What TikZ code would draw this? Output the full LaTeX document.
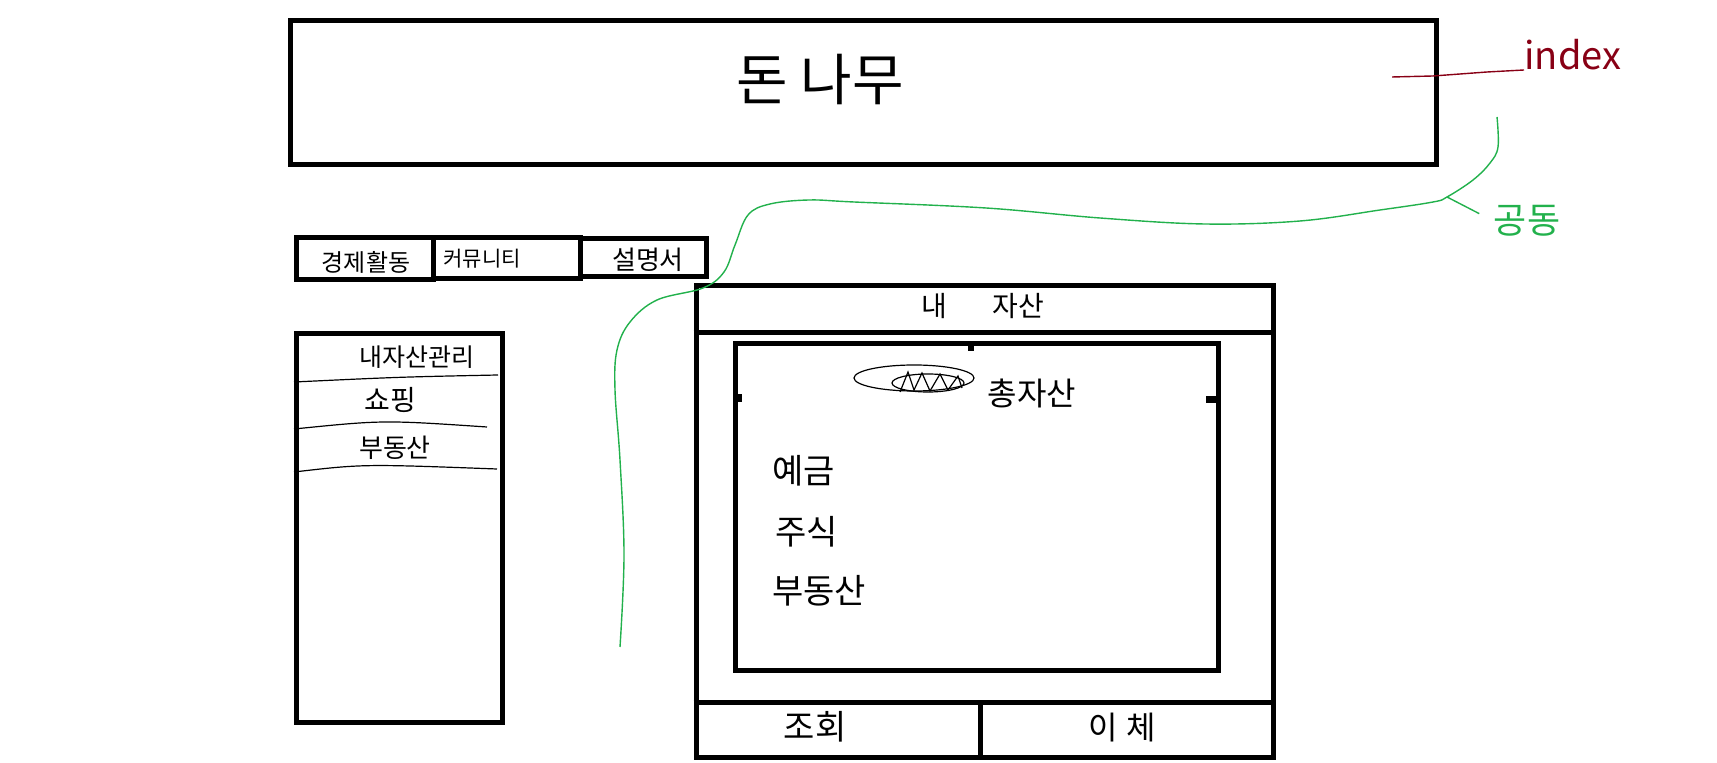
\documentclass[tikz,border=0pt]{standalone}
\usepackage{fontspec}
\newfontfamily\kr{Noto Sans CJK KR}
\usepackage{xcolor}
\usetikzlibrary{positioning}
\definecolor{paintred}{RGB}{136,0,21}
\definecolor{paintgreen}{RGB}{34,177,76}
\tikzset{
    frame/.style={rectangle, draw, line width=2.5pt, inner sep=0pt},
    txt/.style={inner sep=0pt, font=\kr\fontsize{#1}{#1}\selectfont},
    txt/.default=14,
    thinline/.style={draw, line width=0.6pt},
    redline/.style={draw=paintred, line width=0.7pt},
    greenline/.style={draw=paintgreen, line width=0.7pt},
    tick/.style={fill=black}
}

\begin{document}
\begin{tikzpicture}[x=0.5pt, y=-0.5pt]
    \useasboundingbox (0,0) rectangle (1717,763);

    % title bar
    \node[frame, minimum width=573.25pt, minimum height=72.25pt] (title) at (863.25,92.75) {};
    \node[txt=28] (titletext) at (820,80) {돈 나무};

    % top menu
    \node[frame, minimum width=68.25pt, minimum height=21pt] (econ) at (364.75,259) {};
    \node[frame, minimum width=73.5pt, minimum height=20.5pt] (community) at (506.5,258.5) {};
    \node[frame, minimum width=63pt, minimum height=19pt] (manual) at (643,258) {};
    \node[txt=12] (econtext) at (366,262) {경제활동};
    \node[txt=10.5] (commtext) at (482,259) {커뮤니티};
    \node[txt=13] (mantext) at (648,260) {설명서};

    % side menu
    \node[frame, minimum width=102.75pt, minimum height=194pt] (side) at (399.25,528) {};
    \node[txt=12.5] (myasset) at (417,357) {내자산관리};
    \node[txt=14] (shop) at (390,400) {쇼핑};
    \node[txt=13] (estate) at (395,448) {부동산};
    \draw[thinline] (side.west |- 0,382) .. controls (400,377) .. (498,375);
    \draw[thinline] (side.west |- 0,429) .. controls (383,420) .. (487,427);
    \draw[thinline] (side.west |- 0,472) .. controls (363,464) .. (497,469);

    % main panel
    \node[frame, minimum width=288.75pt, minimum height=235.75pt] (panel) at (984.75,521.25) {};
    \draw[line width=2.5pt] (panel.west |- 0,333) -- (panel.east |- 0,333);
    \draw[line width=2.5pt] (panel.west |- 0,702) -- (panel.east |- 0,702);
    \draw[line width=2.5pt] (980.5,702) -- (panel.south -| 980.5,0);
    \node[txt=14] (mine) at (983,306) {내\hspace{1.6em}자산};
    \node[txt=17] (lookup) at (815,727) {조회};
    \node[txt=16] (transfer) at (1122,728) {이\hspace{0.25em}체};

    % asset box
    \node[frame, minimum width=241.5pt, minimum height=163pt] (assets) at (976.5,507) {};
    \fill[tick] (735,394) rectangle (742,402);
    \fill[tick] (1206,396) rectangle (1216,403);
    \fill[tick] (968,344) rectangle (974,351);
    \draw[line width=0.6pt] (914,378) ellipse [x radius=60, y radius=13];
    \draw[line width=0.6pt] (928,383) ellipse [x radius=36, y radius=9];
    \draw[line width=0.6pt] (900,392) -- (908,372) -- (914,390) -- (922,373) -- (930,391)
        -- (940,374) -- (948,390) -- (958,376) -- (962,388);
    \node[txt=16] (total) at (1032,393) {총자산};
    \node[txt=17, anchor=west] (deposit) at (772,471) {예금};
    \node[txt=17, anchor=west] (stock) at (775,532) {주식};
    \node[txt=17, anchor=west] (realty) at (772,591) {부동산};

    % notes
    \node[txt=19, text=paintred, anchor=base west] (idx) at (1524,70) {index};
    \coordinate (idxtail) at (1392,77);
    \draw[redline] (idxtail) -- (1433,76) -- (1487,72) -- (idx.base west);

    \node[txt=18, text=paintgreen] (common) at (1527,221) {공동};
    \coordinate (commonfork) at (1447,197);
    \draw[greenline] plot[smooth, tension=0.6] coordinates {
        (1497,117) (1498,147) (1490,163) (1473,180) (1447,197) (1433,202)
        (1380,210) (1300,221) (1205,224) (1100,218) (986,208) (854,202)
        (809,200) (770,204) (748,215) (735,245) (724,272) (703,288)
        (657,300) (630,322) (617,350) (615,390) (620,460) (624,555) (620,647)};
    \draw[greenline, shorten >=8pt] (commonfork) -- (common.west);
\end{tikzpicture}
\end{document}
